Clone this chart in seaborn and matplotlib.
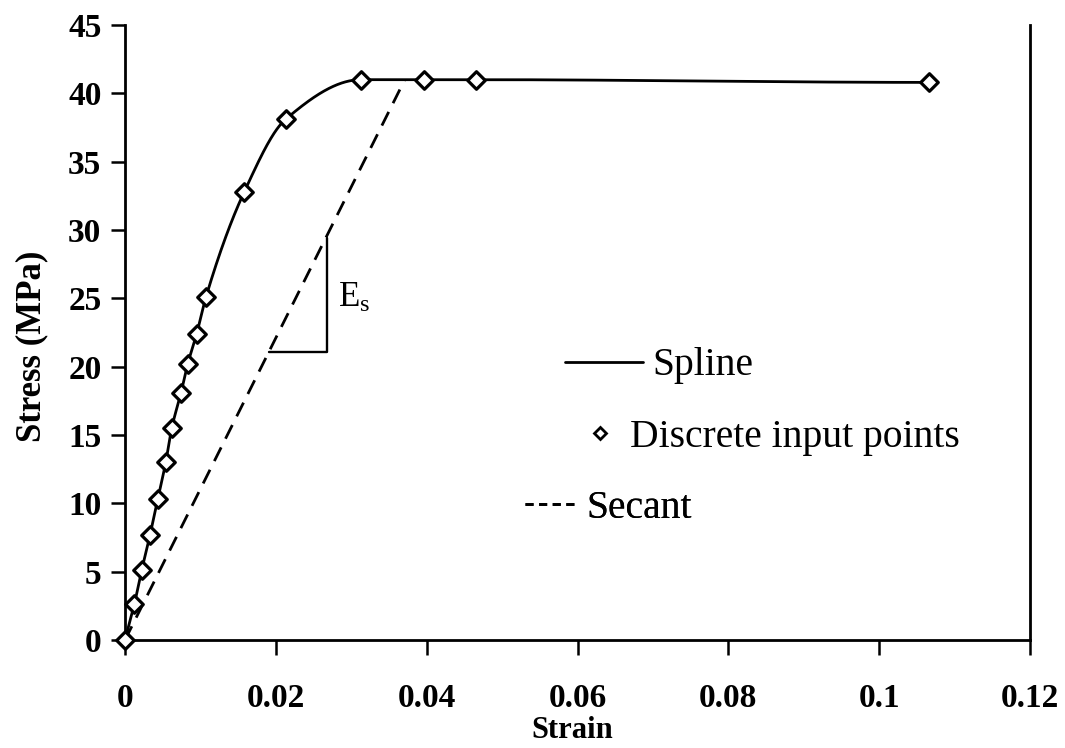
import numpy as np
import pandas as pd
import matplotlib
matplotlib.use("Agg")
import matplotlib.pyplot as plt
from matplotlib.lines import Line2D
import seaborn as sns

# ---- data ----
strain = [0.0, 0.00123, 0.00221, 0.00332, 0.00434, 0.0054, 0.0062, 0.00743,
          0.00832, 0.0095, 0.01074, 0.01582, 0.0213, 0.0313, 0.0397, 0.0466, 0.1066]
stress = [0.0, 2.6, 5.1, 7.7, 10.3, 13.0, 15.5, 18.1,
          20.2, 22.4, 25.1, 32.8, 38.1, 41.0, 41.0, 41.0, 40.8]
secant_strain = [0.0, 0.0371]
secant_stress = [0.0, 41.0]
es_tri_strain = [0.0191, 0.02675, 0.02675]
es_tri_stress = [21.1, 21.1, 29.4]
x_ticks = [0, 0.02, 0.04, 0.06, 0.08, 0.1, 0.12]
x_tick_labels = ["0", "0.02", "0.04", "0.06", "0.08", "0.1", "0.12"]
y_ticks = [0, 5, 10, 15, 20, 25, 30, 35, 40, 45]
legend_labels = ["Spline", "Discrete input points", "Secant"]


def pchip(x, y, xs):
    """Monotone cubic (Fritsch-Carlson) spline through the input points."""
    x = np.asarray(x, float); y = np.asarray(y, float)
    h = np.diff(x); d = np.diff(y) / h
    m = np.zeros_like(y)
    for k in range(1, len(x) - 1):
        if d[k - 1] * d[k] <= 0:
            m[k] = 0.0
        else:
            w1 = 2 * h[k] + h[k - 1]; w2 = h[k] + 2 * h[k - 1]
            m[k] = (w1 + w2) / (w1 / d[k - 1] + w2 / d[k])
    m[0] = d[0]; m[-1] = 0.0 if d[-1] * d[-2] <= 0 else d[-1]
    idx = np.clip(np.searchsorted(x, xs) - 1, 0, len(h) - 1)
    t = (xs - x[idx]) / h[idx]
    h00 = 2 * t**3 - 3 * t**2 + 1; h10 = t**3 - 2 * t**2 + t
    h01 = -2 * t**3 + 3 * t**2; h11 = t**3 - t**2
    return h00 * y[idx] + h10 * h[idx] * m[idx] + h01 * y[idx + 1] + h11 * h[idx] * m[idx + 1]


sns.set_theme(style="white")
plt.rcParams["font.family"] = ["Liberation Serif", "DejaVu Serif"]
plt.rcParams["mathtext.fontset"] = "custom"
plt.rcParams["mathtext.rm"] = "Liberation Serif"
plt.rcParams["text.color"] = "black"
plt.rcParams["axes.labelcolor"] = "black"
plt.rcParams["xtick.color"] = "black"
plt.rcParams["ytick.color"] = "black"

fig = plt.figure(figsize=(10.65, 7.48), dpi=100)
W, H = 1065, 748
ax = fig.add_axes([125 / W, 1 - 640 / H, (1030 - 125) / W, (640 - 25) / H])

xs = np.linspace(strain[0], strain[-1], 1500)
spline_df = pd.DataFrame({"strain": xs, "stress": pchip(strain, stress, xs)})
pts_df = pd.DataFrame({"strain": strain, "stress": stress})
sec_df = pd.DataFrame({"strain": secant_strain, "stress": secant_stress})

sns.lineplot(data=spline_df, x="strain", y="stress", ax=ax, color="black",
             linewidth=2.0, sort=False, zorder=3)
sns.lineplot(data=sec_df, x="strain", y="stress", ax=ax, color="black",
             linewidth=2.0, dashes=False, linestyle=(0, (5.5, 3.5)), zorder=2)
ax.plot(es_tri_strain, es_tri_stress, color="black", linewidth=1.7, zorder=2)
sns.scatterplot(data=pts_df, x="strain", y="stress", ax=ax, marker="D", s=80,
                facecolor="white", edgecolor="black", linewidth=2.3, zorder=4,
                clip_on=False)

ax.text(0.0283, 25.0, r"$\mathregular{E_s}$", fontsize=25, va="center", ha="left",
        color="black")

ax.set_xlim(0, 0.12)
ax.set_ylim(0, 45)
ax.set_xticks(x_ticks)
ax.set_xticklabels(x_tick_labels)
ax.set_yticks(y_ticks)
ax.set_yticklabels([str(v) for v in y_ticks])
for lab in ax.get_xticklabels() + ax.get_yticklabels():
    lab.set_fontweight("bold")
    lab.set_fontsize(24)
    lab.set_color("black")
ax.tick_params(axis="x", direction="out", length=11, width=1.8, pad=20, colors="black")
ax.tick_params(axis="y", direction="out", length=10, width=1.8, pad=7, colors="black")
ax.tick_params(bottom=True, left=True)

ax.set_xlabel("Strain", fontsize=22, fontweight="bold", color="black")
ax.xaxis.set_label_coords((572 - 125) / 905, -(716 - 640) / 615)
ax.set_ylabel("Stress (MPa)", fontsize=25, fontweight="bold", color="black")
ax.yaxis.set_label_coords(-(125 - 48) / 905, (640 - 346) / 615)

for side in ["left", "bottom", "right"]:
    ax.spines[side].set_visible(True)
    ax.spines[side].set_color("black")
    ax.spines[side].set_linewidth(2.0)
ax.spines["top"].set_visible(False)
ax.grid(False)

# hand-placed legend entries (the original legend rows are not aligned)
handles = [
    Line2D([], [], color="black", linewidth=2.0),
    Line2D([], [], color="black", linestyle="none", marker="D", markersize=6,
           markerfacecolor="white", markeredgewidth=2),
    Line2D([], [], color="black", linewidth=2.0, linestyle=(0, (2.9, 2.0))),
]
entry_left_px = [565, 578, 525]
entry_y_px = [366, 437, 508]
entry_handlelength = [1.97, 1.12, 1.36]
entry_textpad = [0.23, 0.2, 0.2]
for i in range(3):
    leg = ax.legend([handles[i]], [legend_labels[i]], loc="center left",
                    bbox_to_anchor=(entry_left_px[i] / W, 1 - entry_y_px[i] / H),
                    bbox_transform=fig.transFigure, frameon=False, fontsize=28.5,
                    handlelength=entry_handlelength[i], handletextpad=entry_textpad[i],
                    borderaxespad=0, borderpad=0)
    for t in leg.get_texts():
        t.set_color("black")
    ax.add_artist(leg)

fig.savefig("out.png", dpi=100, facecolor="white")
